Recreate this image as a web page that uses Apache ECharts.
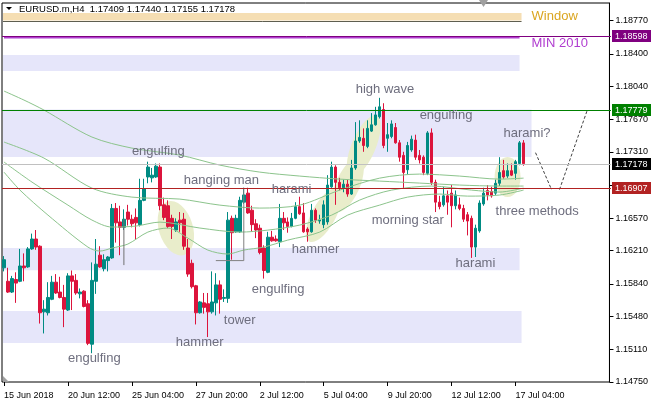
<!DOCTYPE html>
<html><head><meta charset="utf-8">
<script src="https://cdn.jsdelivr.net/npm/echarts@6/dist/echarts.min.js"></script>
<style>html,body{margin:0;padding:0;background:#fff}#c{width:651px;height:406px}</style>
</head><body><div id="c"></div><script>
// ---- data ----
const slotCount = 152;
const tickIdx = [0,16,32,48,64,80,96,112,128];
const tickLabels = ['15 Jun 2018','20 Jun 12:00','25 Jun 04:00','27 Jun 20:00','2 Jul 12:00','5 Jul 04:00','9 Jul 20:00','12 Jul 12:00','17 Jul 04:00'];
const yTicks = [1.18770,1.18400,1.18040,1.17670,1.17310,1.16940,1.16570,1.16210,1.15840,1.15480,1.15110,1.14750];
// [open, close, low, high]
const candles = [
[1.1602,1.1611,1.1598,1.1615],[1.1587,1.1575,1.1574,1.1602],[1.1575,1.1590,1.1574,1.1593],[1.1589,1.1585,1.1563,1.1597],
[1.1587,1.1604,1.1586,1.1623],[1.1604,1.1602,1.1587,1.1618],[1.1603,1.1623,1.1602,1.1625],[1.1623,1.1634,1.1622,1.1640],
[1.1634,1.1625,1.1622,1.1644],[1.1626,1.1552,1.1540,1.1627],[1.1553,1.1556,1.1529,1.1566],[1.1552,1.1569,1.1549,1.1586],
[1.1567,1.1586,1.1566,1.1593],[1.1586,1.1574,1.1573,1.1595],[1.1575,1.1569,1.1568,1.1592],[1.1569,1.1556,1.1536,1.1583],
[1.1555,1.1593,1.1554,1.1596],[1.1593,1.1587,1.1555,1.1599],[1.1588,1.1574,1.1572,1.1595],[1.1573,1.1575,1.1568,1.1579],
[1.1576,1.1559,1.1558,1.1577],[1.1562,1.1518,1.1516,1.1566],[1.1517,1.1588,1.1507,1.1608],[1.1587,1.1606,1.1573,1.1634],
[1.1616,1.1603,1.1602,1.1626],[1.1601,1.1611,1.1598,1.1617],[1.1610,1.1614,1.1598,1.1615],[1.1613,1.1668,1.1612,1.1673],
[1.1668,1.1652,1.1630,1.1674],[1.1653,1.1647,1.1616,1.1671],[1.1647,1.1656,1.1644,1.1667],[1.1664,1.1656,1.1649,1.1672],
[1.1656,1.1651,1.1647,1.1661],[1.1658,1.1652,1.1633,1.1668],[1.1650,1.1677,1.1648,1.1701],[1.1677,1.1690,1.1676,1.1701],
[1.1703,1.1714,1.1696,1.1720],[1.1702,1.1705,1.1697,1.1713],[1.1703,1.1715,1.1702,1.1718],[1.1714,1.1671,1.1666,1.1718],
[1.1672,1.1658,1.1655,1.1680],[1.1671,1.1648,1.1646,1.1677],[1.1657,1.1648,1.1634,1.1661],[1.1644,1.1653,1.1642,1.1657],
[1.1655,1.1652,1.1642,1.1664],[1.1656,1.1626,1.1622,1.1663],[1.1624,1.1595,1.1592,1.1634],[1.1607,1.1581,1.1579,1.1611],
[1.1582,1.1552,1.1539,1.1583],[1.1552,1.1564,1.1551,1.1565],[1.1563,1.1558,1.1551,1.1574],[1.1562,1.1553,1.1525,1.1574],
[1.1553,1.1564,1.1551,1.1598],[1.1563,1.1583,1.1549,1.1596],[1.1583,1.1567,1.1551,1.1588],[1.1568,1.1569,1.1564,1.1578],
[1.1568,1.1655,1.1563,1.1664],[1.1657,1.1641,1.1611,1.1660],[1.1642,1.1657,1.1641,1.1661],[1.1642,1.1677,1.1641,1.1681],
[1.1675,1.1683,1.1673,1.1691],[1.1685,1.1663,1.1662,1.1691],[1.1666,1.1650,1.1642,1.1671],[1.1651,1.1644,1.1635,1.1656],
[1.1646,1.1619,1.1617,1.1650],[1.1624,1.1599,1.1590,1.1627],[1.1597,1.1636,1.1596,1.1642],[1.1636,1.1632,1.1631,1.1643],
[1.1634,1.1632,1.1631,1.1638],[1.1631,1.1657,1.1625,1.1673],[1.1657,1.1652,1.1644,1.1664],[1.1653,1.1648,1.1641,1.1658],
[1.1648,1.1657,1.1647,1.1663],[1.1657,1.1670,1.1656,1.1675],[1.1670,1.1662,1.1661,1.1681],[1.1663,1.1642,1.1641,1.1674],
[1.1645,1.1642,1.1631,1.1647],[1.1642,1.1666,1.1641,1.1673],[1.1666,1.1655,1.1652,1.1668],[1.1654,1.1655,1.1651,1.1661],
[1.1650,1.1672,1.1646,1.1677],[1.1653,1.1694,1.1650,1.1705],[1.1692,1.1714,1.1691,1.1720],[1.1714,1.1697,1.1672,1.1716],
[1.1697,1.1691,1.1688,1.1702],[1.1691,1.1695,1.1686,1.1700],[1.1695,1.1684,1.1681,1.1700],[1.1684,1.1713,1.1683,1.1722],
[1.1713,1.1743,1.1711,1.1764],[1.1743,1.1747,1.1741,1.1766],[1.1746,1.1738,1.1731,1.1757],[1.1737,1.1757,1.1735,1.1766],
[1.1754,1.1761,1.1753,1.1774],[1.1761,1.1772,1.1760,1.1781],[1.1770,1.1781,1.1768,1.1791],[1.1778,1.1738,1.1735,1.1785],
[1.1746,1.1750,1.1731,1.1763],[1.1748,1.1762,1.1746,1.1766],[1.1758,1.1741,1.1740,1.1763],[1.1741,1.1725,1.1720,1.1744],
[1.1727,1.1708,1.1690,1.1731],[1.1711,1.1738,1.1706,1.1742],[1.1733,1.1745,1.1731,1.1749],[1.1744,1.1725,1.1722,1.1750],
[1.1727,1.1722,1.1718,1.1733],[1.1725,1.1708,1.1705,1.1727],[1.1707,1.1752,1.1705,1.1754],[1.1752,1.1697,1.1694,1.1757],
[1.1697,1.1675,1.1664,1.1700],[1.1675,1.1670,1.1667,1.1682],[1.1672,1.1682,1.1670,1.1692],[1.1682,1.1675,1.1661,1.1688],
[1.1685,1.1671,1.1647,1.1694],[1.1671,1.1683,1.1667,1.1688],[1.1672,1.1668,1.1666,1.1680],[1.1668,1.1656,1.1653,1.1672],
[1.1661,1.1654,1.1638,1.1664],[1.1657,1.1625,1.1613,1.1660],[1.1625,1.1646,1.1614,1.1650],[1.1643,1.1674,1.1641,1.1677],
[1.1673,1.1685,1.1671,1.1691],[1.1688,1.1683,1.1677,1.1694],[1.1687,1.1682,1.1680,1.1692],[1.1685,1.1696,1.1683,1.1700],
[1.1696,1.1708,1.1693,1.1725],[1.1710,1.1703,1.1701,1.1722],[1.1704,1.1710,1.1702,1.1718],[1.1710,1.1705,1.1704,1.1718],
[1.1707,1.1720,1.1700,1.1722],[1.1718,1.1741,1.1716,1.1743],[1.17409,1.17178,1.17155,1.17440]
];
// moving averages: [bar index, price]
const maA = [[0,1.17985],[5,1.17885],[10,1.17774],[22,1.17474],[32,1.17351],[44,1.17273],[54,1.17162],[64,1.17084],[74,1.17040],[84,1.17006],[94,1.16984],[104,1.16962],[114,1.16940],[124,1.16929],[130,1.16929]];
const maB = [[0,1.17418],[10,1.17240],[22,1.16906],[32,1.16806],[44,1.16784],[54,1.16717],[64,1.16684],[74,1.16717],[84,1.16884],[94,1.17017],[104,1.17062],[114,1.17040],[124,1.17006],[130,1.17017]];
const maC = [[0,1.17196],[7,1.16973],[16,1.16717],[22,1.16551],[27,1.16473],[33,1.16484],[39,1.16528],[49,1.16462],[59,1.16417],[66,1.16439],[74,1.16495],[82,1.16606],[89,1.16773],[97,1.16884],[107,1.16929],[117,1.16884],[124,1.16862],[130,1.16906]];
const maD = [[0,1.17084],[4,1.16884],[11,1.16606],[21,1.16250],[24,1.16206],[27,1.16239],[31,1.16284],[36,1.16417],[41,1.16462],[46,1.16350],[51,1.16217],[56,1.16173],[60,1.16217],[65,1.16250],[71,1.16328],[79,1.16417],[86,1.16606],[94,1.16717],[101,1.16806],[109,1.16840],[116,1.16817],[124,1.16829],[130,1.16884]];
const priceLevels = [1.18598, 1.17779, 1.17178, 1.16907];
const priceLabels = ['1.18598','1.17779','1.17178','1.16907'];
// zones: [fromBar, toBar, topPrice, bottomPrice]
const zones = [[-0.25,129,1.18385,1.18207],[-0.25,132,1.17779,1.17251],[-0.25,129,1.16239,1.15994],[-0.25,129.5,1.15539,1.15183]];
const windowZone = [-0.25,129.5,1.18852,1.18769];
const minLine = [[0,1.18580],[129,1.18580]];
const bracket = [[53,1.16100],[60,1.16100],[60,1.16910]];
const stick = [[30,1.16560],[30,1.16050]];
const projDown = [[133,1.17300],[137,1.16890]];
const projUp = [[139,1.16890],[146,1.17780]];
const notes = [['engulfing',32,1.1731],['hanging man',45,1.16995],['harami',67,1.1689],['high wave',88,1.1800],
 ['engulfing',104,1.1771],['harami?',125,1.1751],['morning star',92,1.1655],['three methods',123,1.1665],
 ['harami',113,1.1607],['hammer',72,1.1622],['engulfing',62,1.1578],['tower',55,1.1544],['hammer',43,1.1519],['engulfing',16,1.1501]];
const sideNotes = [['Window',132,1.18819],['MIN 2010',132,1.18519]];
const blobCenters = [[43,1.1646],[80,1.16606],[86,1.16940],[90,1.17373],[126,1.17029]];
const blobShapes = [[17,28,0.3],[12,30,-0.5],[12,29,-0.42],[12,33,-0.4],[13,20,0]];
const header = 'EURUSD.m,H4  1.17409 1.17440 1.17155 1.17178';

// ---- chart ----
const chart = echarts.init(document.getElementById('c'), null, {renderer:'canvas'});
const cats = Array.from({length: slotCount}, (_, i) => String(i));
const isTick = (i) => tickIdx.indexOf(i) >= 0;
const lineColors = ['#800080','#008000','#C0C0C0','#B22222'];
const boxColors = ['#800080','#008000','#000000','#B22222'];
const FONT = '"Liberation Sans", Arial, sans-serif';
const GRID = {left:2, right:40, top:3, bottom:24};
const maSeries = [maA, maB, maC, maD].map(d => ({
  type:'line', data:d, symbol:'none', smooth:0.3, z:3, silent:true,
  lineStyle:{color:'#8CC48C', width:1}
}));
chart.setOption({
  animation:false,
  backgroundColor:'#fff',
  grid:Object.assign({show:true, borderColor:'#000', borderWidth:1, backgroundColor:'transparent'}, GRID),
  xAxis:{type:'category', data:cats, boundaryGap:true,
    axisLine:{show:false},
    axisTick:{show:true, interval:(i)=>isTick(i), alignWithLabel:true, length:4, lineStyle:{color:'#000'}},
    axisLabel:{interval:(i)=>isTick(i), formatter:(v, i)=>tickLabels[tickIdx.indexOf(i)] || '', align:'left', margin:9,
      fontSize:9, color:'#000', fontFamily:FONT},
    splitLine:{show:false}},
  yAxis:{type:'value', position:'right', min:1.1475, max:1.189645,
    axisLine:{show:true, lineStyle:{color:'#000'}},
    axisTick:{show:true, length:4, customValues:yTicks, lineStyle:{color:'#000'}},
    axisLabel:{customValues:yTicks, formatter:(v)=>v.toFixed(5), fontSize:9, color:'#000', margin:6, fontFamily:FONT},
    splitLine:{show:false}},
  series:[
    {type:'candlestick', data:candles, barWidth:3, z:2, silent:true,
     itemStyle:{color:'#008B83', color0:'#DC143C', borderColor:'#008B83', borderColor0:'#DC143C', borderWidth:1}},
    ...maSeries,
    {type:'line', data:minLine, symbol:'none', z:4, silent:true, lineStyle:{color:'#B040D0', width:2}},
    {type:'line', data:bracket, symbol:'none', z:4, silent:true, lineStyle:{color:'#808080', width:1}},
    {type:'line', data:stick, symbol:'none', z:4, silent:true, lineStyle:{color:'#707070', width:1}},
    {type:'line', data:projDown, symbol:'none', z:4, silent:true, lineStyle:{color:'#404040', width:1, type:[3,2]}},
    {type:'line', data:projUp, symbol:'none', z:4, silent:true, lineStyle:{color:'#404040', width:1, type:[3,2]}}
  ]
});

// annotations positioned from data coordinates
const px = (b, p) => chart.convertToPixel({xAxisIndex:0, yAxisIndex:0}, [b, p]);
const x0 = px(0, 1.16)[0], bw = px(1, 1.16)[0] - x0;
const bx = (b) => x0 + b * bw;
const by = (p) => px(0, p)[1];
const plotL = GRID.left, plotR = 651 - GRID.right;
const g = [];
zones.forEach(z => {
  g.push({type:'rect', shape:{x:bx(z[0]), y:by(z[2]), width:bx(z[1]) - bx(z[0]), height:by(z[3]) - by(z[2])},
    style:{fill:'#E6E6FA'}, z:0, silent:true});
});
g.push({type:'rect', shape:{x:bx(windowZone[0]), y:by(windowZone[2]), width:bx(windowZone[1]) - bx(windowZone[0]), height:by(windowZone[3]) - by(windowZone[2])},
  style:{fill:'#F5DEB3'}, z:0, silent:true});
g.push({type:'line', shape:{x1:bx(windowZone[0]), y1:Math.round(by(windowZone[3])) + 0.5, x2:bx(windowZone[1]), y2:Math.round(by(windowZone[3])) + 0.5},
  style:{stroke:'#5E5E50', lineWidth:1}, z:0, silent:true});
blobCenters.forEach((c, i) => {
  const s = blobShapes[i];
  g.push({type:'circle', x:bx(c[0]), y:by(c[1]), shape:{cx:0, cy:0, r:10}, scaleX:s[0]/10, scaleY:s[1]/10, rotation:s[2],
    style:{fill:'#E9EDCB'}, z:1, silent:true});
});
priceLevels.forEach((v, i) => {
  const y = Math.round(by(v)) + 0.5;
  g.push({type:'line', shape:{x1:plotL, y1:y, x2:plotR, y2:y}, style:{stroke:lineColors[i], lineWidth:1}, z:20, silent:true});
  g.push({type:'rect', shape:{x:plotR + 1, y:y - 6.5, width:39, height:12}, style:{fill:boxColors[i]}, z:21, silent:true});
  g.push({type:'text', x:plotR + 4, y:y, z:22, silent:true,
    style:{text:priceLabels[i], fill:'#fff', font:'9px ' + FONT, textVerticalAlign:'middle', textAlign:'left'}});
});
notes.forEach(n => {
  g.push({type:'text', x:bx(n[1]), y:by(n[2]), z:30, silent:true,
    style:{text:n[0], fill:'#6E6E7E', font:'13px ' + FONT, textVerticalAlign:'middle', textAlign:'left'}});
});
const sideColors = ['#DAA520','#B03CD0'];
sideNotes.forEach((n, i) => {
  g.push({type:'text', x:bx(n[1]), y:by(n[2]), z:30, silent:true,
    style:{text:n[0], fill:sideColors[i], font:'13px ' + FONT, textVerticalAlign:'middle', textAlign:'left'}});
});
g.push({type:'polygon', shape:{points:[[6,7],[12,7],[9,10]]}, style:{fill:'#000'}, z:30, silent:true});
g.push({type:'text', x:19, y:9, z:30, silent:true, style:{text:header, fill:'#000', font:'9.5px ' + FONT, textVerticalAlign:'middle'}});
g.push({type:'polygon', shape:{points:[[479,0],[488,0],[483.5,7]]}, style:{fill:'#A0A0A0'}, z:30, silent:true});
g.push({type:'polygon', shape:{points:[[3,376],[3,382],[9,382]]}, style:{fill:'#A0A0A0'}, z:30, silent:true});
chart.setOption({graphic:{elements:g}});
</script></body></html>
